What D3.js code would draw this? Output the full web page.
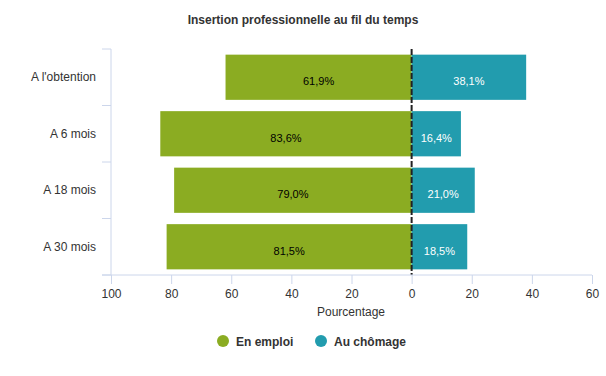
<!DOCTYPE html>
<html>
<head>
<meta charset="utf-8">
<script src="https://cdn.jsdelivr.net/npm/d3@7"></script>
<style>
  body { margin: 0; background: #fff; }
  svg { font-family: "Liberation Sans", Arial, sans-serif; }
</style>
</head>
<body>
<div class="chart"></div>
<script>
var categories = ["A l'obtention", "A 6 mois", "A 18 mois", "A 30 mois"];
var emploi = [61.9, 83.6, 79.0, 81.5];
var chomage = [38.1, 16.4, 21.0, 18.5];
var xTicks = [-100, -80, -60, -40, -20, 0, 20, 40, 60];
var seriesNames = ["En emploi", "Au chômage"];
var colors = ["#8bac22", "#229cae"];

var width = 606, height = 376;
var svg = d3.select('.chart').append('svg').attr('width', width).attr('height', height);

var x = d3.scaleLinear().domain([-100, 60]).range([111, 592]);
var y = d3.scaleBand().domain(categories).range([49, 275]).paddingInner(0.2).paddingOuter(0.1);

var fmt = function(v) { return v.toFixed(1).replace('.', ',') + '%'; };

// title
svg.append('text').attr('x', 303).attr('y', 24).attr('text-anchor', 'middle')
  .style('font-size', '12px').style('font-weight', 'bold').style('fill', '#333')
  .text('Insertion professionnelle au fil du temps');

// bars
var rows = categories.map(function(c, i) { return {cat: c, e: emploi[i], c: chomage[i]}; });

svg.selectAll('rect.emploi').data(rows).enter().append('rect')
  .attr('x', function(d) { return x(-d.e); })
  .attr('y', function(d) { return y(d.cat); })
  .attr('width', function(d) { return x(0) - x(-d.e); })
  .attr('height', y.bandwidth())
  .style('fill', colors[0]);

svg.selectAll('rect.chomage').data(rows).enter().append('rect')
  .attr('x', x(0))
  .attr('y', function(d) { return y(d.cat); })
  .attr('width', function(d) { return x(d.c) - x(0); })
  .attr('height', y.bandwidth())
  .style('fill', colors[1]);

// data labels
svg.selectAll('text.le').data(rows).enter().append('text')
  .attr('x', function(d) { return (x(-d.e) + x(0)) / 2; })
  .attr('y', function(d) { return y(d.cat) + y.bandwidth() / 2 + 8; })
  .attr('text-anchor', 'middle').style('font-size', '11px').style('fill', '#000')
  .text(function(d) { return fmt(d.e); });

svg.selectAll('text.lc').data(rows).enter().append('text')
  .attr('x', function(d) { return (x(d.c) + x(0)) / 2; })
  .attr('y', function(d) { return y(d.cat) + y.bandwidth() / 2 + 8; })
  .attr('text-anchor', 'middle').style('font-size', '11px').style('fill', '#fff')
  .text(function(d) { return fmt(d.c); });

// zero line
svg.append('line').attr('x1', x(0)).attr('x2', x(0)).attr('y1', 49).attr('y2', 275)
  .style('stroke', '#222').style('stroke-width', 2).style('stroke-dasharray', '6,2');

// y axis
var yAxis = svg.append('g').attr('transform', 'translate(111,0)');
yAxis.append('line').attr('x1', 0).attr('x2', 0).attr('y1', 49).attr('y2', 275)
  .style('stroke', '#ccd6eb');
var bounds = [49].concat(categories.map(function(c) { return y(c) + y.bandwidth() + y.step() * y.paddingInner() / 2; }));
bounds[bounds.length - 1] = 275;
yAxis.selectAll('line.t').data(bounds).enter().append('line')
  .attr('x1', -9).attr('x2', 0).attr('y1', function(d) { return d; }).attr('y2', function(d) { return d; })
  .style('stroke', '#ccd6eb');
yAxis.selectAll('text').data(categories).enter().append('text')
  .attr('x', -15).attr('y', function(d) { return y(d) + y.bandwidth() / 2 + 4; })
  .attr('text-anchor', 'end').style('font-size', '12px').style('fill', '#333')
  .text(function(d) { return d; });

// x axis
var xAxis = svg.append('g').attr('transform', 'translate(0,275)')
  .call(d3.axisBottom(x).tickValues(xTicks).tickSize(9).tickPadding(5)
    .tickFormat(function(d) { return Math.abs(d); }));
xAxis.select('.domain').remove();
xAxis.append('line').attr('x1', 102).attr('x2', 592).attr('y1', 0).attr('y2', 0).style('stroke', '#ccd6eb');
xAxis.selectAll('.tick line').style('stroke', '#ccd6eb');
xAxis.selectAll('.tick text').style('font-size', '12px').style('fill', '#333')
  .style('font-family', '"Liberation Sans", Arial, sans-serif');

svg.append('text').attr('x', 351).attr('y', 316).attr('text-anchor', 'middle')
  .style('font-size', '12px').style('fill', '#333').text('Pourcentage');

// legend
var legX = [223, 321];
var legend = svg.selectAll('g.leg').data(seriesNames).enter().append('g')
  .attr('transform', function(d, i) { return 'translate(' + legX[i] + ',341)'; });
legend.append('circle').attr('r', 6).style('fill', function(d, i) { return colors[i]; });
legend.append('text').attr('x', 13).attr('y', 4.5)
  .style('font-size', '12px').style('font-weight', 'bold').style('fill', '#333')
  .text(function(d) { return d; });
</script>
</body>
</html>
